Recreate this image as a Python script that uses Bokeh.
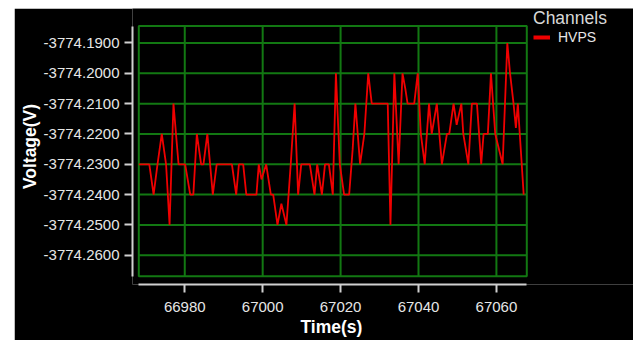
from bokeh.plotting import figure
from bokeh.models import FixedTicker, PrintfTickFormatter, Legend, LegendItem, Spacer, Title
from bokeh.layouts import row, column
from bokeh.embed import file_html
from bokeh.resources import INLINE

# ---------------- data ----------------
time_s = [66968.2, 66970.9, 66972.0, 66973.0, 66974.1, 66975.2, 66976.1, 66977.1, 66978.4, 66980.1,
          66981.4, 66982.2, 66983.1, 66984.2, 66984.8, 66985.8, 66987.2, 66988.2, 66992.1, 66993.2,
          66993.9, 66995.0, 66995.8, 66998.4, 66999.0, 66999.7, 67000.9, 67002.1, 67002.7, 67003.8,
          67004.8, 67006.1, 67007.2, 67008.2, 67009.1, 67009.9, 67012.1, 67013.3, 67014.0, 67015.2,
          67016.0, 67017.0, 67018.0, 67018.8, 67019.8, 67020.9, 67022.2, 67023.1, 67023.8, 67025.0,
          67026.1, 67027.1, 67028.0, 67032.1, 67032.8, 67033.8, 67034.9, 67035.9, 67036.6, 67037.2,
          67038.9, 67039.8, 67040.6, 67041.6, 67042.7, 67043.4, 67044.7, 67046.0, 67047.3, 67047.9,
          67049.0, 67049.8, 67051.0, 67051.5, 67052.8, 67053.7, 67055.0, 67056.1, 67056.7, 67057.8,
          67058.6, 67059.7, 67061.6, 67062.8, 67063.5, 67064.4, 67065.0, 67065.5, 67066.0, 67067.0]

voltage_v = [-3774.23, -3774.23, -3774.24, -3774.23, -3774.22, -3774.23, -3774.25, -3774.21, -3774.23, -3774.23,
             -3774.24, -3774.24, -3774.22, -3774.23, -3774.23, -3774.22, -3774.24, -3774.23, -3774.23, -3774.24,
             -3774.23, -3774.23, -3774.24, -3774.24, -3774.23, -3774.235, -3774.23, -3774.24, -3774.24, -3774.25,
             -3774.243, -3774.25, -3774.23, -3774.21, -3774.24, -3774.23, -3774.23, -3774.24, -3774.23, -3774.24,
             -3774.23, -3774.23, -3774.24, -3774.20, -3774.23, -3774.24, -3774.24, -3774.225, -3774.21, -3774.23,
             -3774.22, -3774.20, -3774.21, -3774.21, -3774.25, -3774.20, -3774.23, -3774.20, -3774.205, -3774.21,
             -3774.21, -3774.20, -3774.22, -3774.23, -3774.21, -3774.22, -3774.21, -3774.23, -3774.22, -3774.22,
             -3774.21, -3774.217, -3774.21, -3774.22, -3774.23, -3774.21, -3774.21, -3774.23, -3774.22, -3774.22,
             -3774.20, -3774.22, -3774.23, -3774.19, -3774.20, -3774.21, -3774.218, -3774.21, -3774.22, -3774.24]

x_ticks = [66980, 67000, 67020, 67040, 67060]
y_ticks = [-3774.26, -3774.25, -3774.24, -3774.23, -3774.22, -3774.21, -3774.20, -3774.19]

series_name = "HVPS"
legend_title = "Channels"
x_label = "Time(s)"
y_label = "Voltage(V)"

# visible plot box (data extent)
X_BOX = (66968.2, 67067.8)
Y_BOX = (-3774.2669, -3774.1844)

# ---------------- layout (page pixels) ----------------
FIG_X, FIG_Y = 14, 8            # black panel starts here (white strip left/top as in the reference)
FIG_W, FIG_H = 633 - FIG_X, 340 - FIG_Y
FRAME_L, FRAME_R, FRAME_T, FRAME_B = 132, 633, 8, 284      # bokeh frame (axes at left/bottom edges)
BOX_L, BOX_R, BOX_T, BOX_B = 138.3, 526.3, 25.5, 275.7     # green plot box
LEGEND_L, LEGEND_B = 533, 45                                # legend left / bottom edge
XLABEL_L = 300                                              # left edge of the x-axis title

x_px = (BOX_R - BOX_L) / (X_BOX[1] - X_BOX[0])
y_px = (BOX_B - BOX_T) / (Y_BOX[1] - Y_BOX[0])
x_range = (X_BOX[0] - (BOX_L - FRAME_L) / x_px, X_BOX[1] + (FRAME_R - BOX_R) / x_px)
y_range = (Y_BOX[0] - (FRAME_B - BOX_B) / y_px, Y_BOX[1] + (BOX_T - FRAME_T) / y_px)

BG = "#000000"
GRID = "#127812"
RED = "#f00000"
AXIS = "#d0d0d0"
TXT = "#e6e6e6"
FONT = "Liberation Sans"

p = figure(width=FIG_W, height=FIG_H, x_range=x_range, y_range=y_range,
           output_backend="svg", toolbar_location=None,
           min_border_left=FRAME_L - FIG_X, min_border_right=FIG_X + FIG_W - FRAME_R,
           min_border_top=FRAME_T - FIG_Y, min_border_bottom=FIG_Y + FIG_H - FRAME_B)
p.background_fill_color = BG
p.border_fill_color = BG
p.outline_line_color = None
p.grid.visible = False

# grid lines restricted to the plot box
p.segment(x0=x_ticks, x1=x_ticks, y0=[Y_BOX[0]] * len(x_ticks), y1=[Y_BOX[1]] * len(x_ticks),
          line_color=GRID, line_width=2)
p.segment(x0=[X_BOX[0]] * len(y_ticks), x1=[X_BOX[1]] * len(y_ticks), y0=y_ticks, y1=y_ticks,
          line_color=GRID, line_width=2)
p.quad(left=[X_BOX[0]], right=[X_BOX[1]], bottom=[Y_BOX[0]], top=[Y_BOX[1]],
       fill_alpha=0, line_color=GRID, line_width=2)

# data line
p.line(time_s, voltage_v, line_color=RED, line_width=1.8)
# legend swatch (thicker, as in the reference): a one-point line draws nothing in the plot
leg_r = p.line(x=time_s[:1], y=voltage_v[:1], line_color=RED, line_width=4)

# axes
for ax in (p.xaxis[0], p.yaxis[0]):
    ax.axis_line_color = AXIS
    ax.axis_line_width = 2
    ax.major_tick_line_color = AXIS
    ax.major_tick_line_width = 2
    ax.major_tick_out = 8
    ax.major_tick_in = 0
    ax.minor_tick_line_color = None
    ax.major_label_text_color = TXT
    ax.major_label_text_font = FONT
    ax.major_label_text_font_size = "15px"
    ax.axis_label_text_color = "#ffffff"
    ax.axis_label_text_font = FONT
    ax.axis_label_text_font_style = "bold"
    ax.axis_label_text_font_size = "17.5px"

p.xaxis[0].ticker = FixedTicker(ticks=x_ticks, minor_ticks=[])
p.yaxis[0].ticker = FixedTicker(ticks=y_ticks, minor_ticks=[])
p.yaxis[0].formatter = PrintfTickFormatter(format="%.4f")
p.xaxis[0].bounds = X_BOX
p.yaxis[0].bounds = Y_BOX
p.yaxis[0].axis_label = y_label
p.xaxis[0].major_label_standoff = 9
p.yaxis[0].major_label_standoff = 5
p.yaxis[0].axis_label_standoff = 1

# x-axis title, centred under the plot box (not under the wider frame)
p.add_layout(Title(text=x_label, align="left", offset=XLABEL_L - FRAME_L, standoff=0,
                   text_font=FONT, text_font_style="bold", text_font_size="17.5px",
                   text_color="#ffffff"), "below")

legend = Legend(items=[LegendItem(label=series_name, renderers=[leg_r])],
                title=legend_title, location=(LEGEND_L - FRAME_L, FRAME_B - LEGEND_B),
                background_fill_alpha=0, border_line_alpha=0,
                padding=0, margin=0, title_standoff=0,
                glyph_width=17, glyph_height=14, label_height=14, label_standoff=8,
                title_text_font=FONT, title_text_font_size="17.5px", title_text_font_style="normal",
                title_text_color="#d8d8d8",
                label_text_font=FONT, label_text_font_size="14px", label_text_color=TXT)
p.add_layout(legend)

layout = column(Spacer(width=633, height=FIG_Y),
                row(Spacer(width=FIG_X, height=FIG_H), p))
open("out.html", "w").write(file_html(layout, INLINE))
